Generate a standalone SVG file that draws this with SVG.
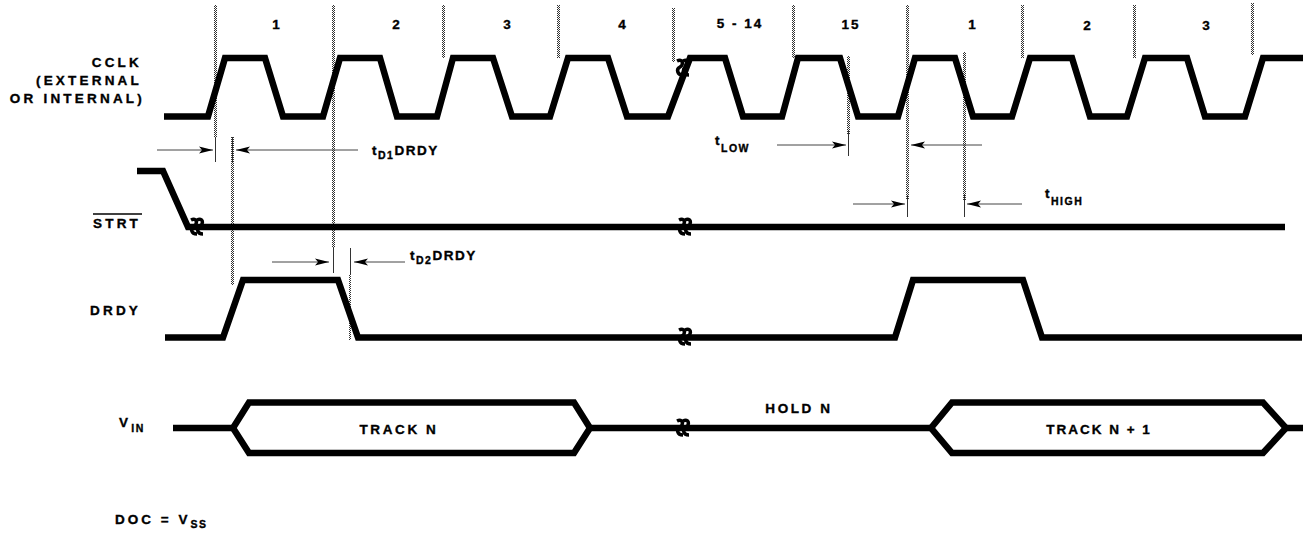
<svg xmlns="http://www.w3.org/2000/svg" xmlns:xlink="http://www.w3.org/1999/xlink" width="1306" height="534" viewBox="0 0 1306 534">
<style>
.w{fill:none;stroke:#000;stroke-width:6.5;stroke-linejoin:miter;stroke-linecap:butt}
.lbl{font-family:"Liberation Sans",Arial,sans-serif;font-weight:bold;font-size:13.5px;letter-spacing:3.2px;fill:#000;stroke:#000;stroke-width:0.35px}
.num{font-family:"Liberation Sans",Arial,sans-serif;font-weight:bold;font-size:13.5px;letter-spacing:2px;fill:#000;stroke:#000;stroke-width:0.35px;text-anchor:middle}
.tm{font-family:"Liberation Sans",Arial,sans-serif;font-weight:bold;font-size:13.5px;letter-spacing:1.5px;fill:#000;stroke:#000;stroke-width:0.35px}
.sub{font-size:10.5px;letter-spacing:1.5px}
.arr{stroke:#444;stroke-width:1;fill:none;marker-end:url(#ah)}
.tick{stroke:#333;stroke-width:1}
.dot{fill:url(#stip)}
.brk{fill:none;stroke:#000;stroke-width:3.5}
</style>
<defs>
<pattern id="stip" width="2" height="2" patternUnits="userSpaceOnUse">
<rect width="2" height="2" fill="#fff"/>
<rect width="1" height="1" fill="#333"/>
<rect x="1" y="1" width="1" height="1" fill="#333"/>
</pattern>
<marker id="ah" markerWidth="14" markerHeight="8" refX="14" refY="4" orient="auto" markerUnits="userSpaceOnUse">
<path d="M0,0.5 L14,4 L0,7.5 L3,4 Z" fill="#000"/>
</marker>
<g id="brk">
<path class="brk" d="M-6,-7 C0,-10 1,-3 -3,-1 C-7,1 -6,7 0,7"/>
<path class="brk" d="M0,-7 C6,-10 7,-3 3,-1 C-1,1 0,7 6,7"/>
</g>
</defs>
<rect width="1306" height="534" fill="#fff"/>

<g id="gridlines">
<rect class="dot" x="214" y="5" width="3" height="132"/>
<rect class="dot" x="231" y="137" width="3" height="148"/>
<rect class="dot" x="332" y="5" width="3" height="243"/>
<rect class="dot" x="349" y="275" width="2" height="65"/>
<rect class="dot" x="442" y="5" width="3" height="53"/>
<rect class="dot" x="557" y="5" width="3" height="53"/>
<rect class="dot" x="672" y="8" width="3" height="54"/>
<rect class="dot" x="792" y="5" width="3" height="53"/>
<rect class="dot" x="847" y="56" width="3" height="78"/>
<rect class="dot" x="906" y="5" width="3" height="195"/>
<rect class="dot" x="963" y="52" width="3" height="148"/>
<rect class="dot" x="1021" y="5" width="3" height="53"/>
<rect class="dot" x="1133" y="5" width="3" height="53"/>
<rect class="dot" x="1251" y="3" width="3" height="52"/>
</g>

<g id="cclk">
<text class="lbl" x="142" y="67" text-anchor="end">CCLK</text>
<text class="lbl" x="142" y="85" text-anchor="end">(EXTERNAL</text>
<text class="lbl" x="145" y="103" text-anchor="end">OR INTERNAL)</text>
<path class="w" d="M164,116.5 H208 L225,58 H265 L283,116.5 H323 L340,58 H380 L397,116.5 H437 L453,58 H493 L512,116.5 H550 L568,58 H608 L627,116.5 H668 L690,58 H725 L743,116.5 H782 L798,58 H840 L858,116.5 H898 L915,58 H955 L973,116.5 H1012 L1030,58 H1072 L1090,116.5 H1127 L1145,58 H1187 L1205,116.5 H1245 L1263,58 H1303"/>
<use xlink:href="#brk" x="683" y="68"/>
<text class="num" x="277" y="29">1</text>
<text class="num" x="397" y="29">2</text>
<text class="num" x="508" y="29">3</text>
<text class="num" x="623" y="29">4</text>
<text class="num" x="740" y="28">5 - 14</text>
<text class="num" x="851" y="29">15</text>
<text class="num" x="973" y="29">1</text>
<text class="num" x="1088" y="30">2</text>
<text class="num" x="1207" y="30">3</text>
</g>

<g id="strt">
<text class="lbl" x="93" y="228">STRT</text>
<line x1="93" y1="214" x2="142" y2="214" stroke="#000" stroke-width="1.5"/>
<path class="w" d="M137,171 H163 L188,227 H1285"/>
<use xlink:href="#brk" x="197" y="227"/>
<use xlink:href="#brk" x="685" y="227"/>
</g>

<g id="drdy">
<text class="lbl" x="90" y="315">DRDY</text>
<path class="w" d="M165,337.5 H223 L243,280 H338 L358,337.5 H895 L913,280 H1023 L1042,337.5 H1302"/>
<use xlink:href="#brk" x="685" y="337"/>
</g>

<g id="vin">
<text class="lbl" x="119" y="427">V<tspan class="sub" dy="5">IN</tspan></text>
<path class="w" d="M173,428 H233"/>
<path class="w" d="M233,428 L249,402.5 H574 L590,428 L574,453 H249 Z"/>
<text class="lbl" x="399" y="434" text-anchor="middle" style="letter-spacing:2.6px">TRACK N</text>
<path class="w" d="M590,428 H931"/>
<use xlink:href="#brk" x="683" y="428"/>
<text class="lbl" x="799" y="413" text-anchor="middle" style="letter-spacing:2.6px">HOLD N</text>
<path class="w" d="M931,428 L952,402.5 H1263 L1286,428 L1263,453 H952 Z"/>
<path class="w" d="M1286,428 H1303"/>
<text class="lbl" x="1099" y="434" text-anchor="middle" style="letter-spacing:2px">TRACK N + 1</text>
</g>

<g id="doc">
<text class="lbl" x="115" y="524" style="letter-spacing:3px">DOC = V<tspan class="sub" dy="4">SS</tspan></text>
</g>

<g id="connectors">
<line class="tick" x1="215.5" y1="137" x2="215.5" y2="162"/>
<line class="tick" x1="232.5" y1="137" x2="232.5" y2="162"/>
<path class="arr" d="M157,150 H213"/>
<path class="arr" d="M358,150 H236"/>
<text class="tm" x="372" y="155">t<tspan class="sub" dy="4">D1</tspan><tspan dy="-4">DRDY</tspan></text>

<line class="tick" x1="333.5" y1="248" x2="333.5" y2="273"/>
<line class="tick" x1="350.5" y1="248" x2="350.5" y2="275"/>
<path class="arr" d="M272,262 H329"/>
<path class="arr" d="M405,262 H354"/>
<text class="tm" x="410" y="260">t<tspan class="sub" dy="4">D2</tspan><tspan dy="-4">DRDY</tspan></text>

<line class="tick" x1="848.5" y1="130" x2="848.5" y2="156"/>
<path class="arr" d="M777,145 H846"/>
<path class="arr" d="M982,145 H911"/>
<text class="tm" x="715" y="145">t<tspan class="sub" dy="7">LOW</tspan></text>

<line class="tick" x1="907.5" y1="195" x2="907.5" y2="217"/>
<line class="tick" x1="964.5" y1="195" x2="964.5" y2="217"/>
<path class="arr" d="M853,204 H905"/>
<path class="arr" d="M1022,204 H967"/>
<text class="tm" x="1045" y="198">t<tspan class="sub" dy="7">HIGH</tspan></text>
</g>
</svg>
